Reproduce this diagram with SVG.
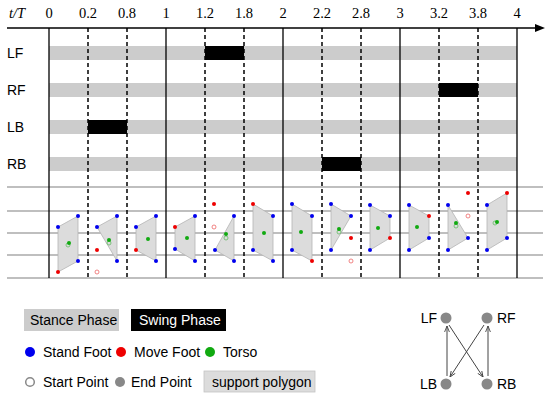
<svg xmlns="http://www.w3.org/2000/svg" width="550" height="399" viewBox="0 0 550 399">
<defs>
<style>
.num{font-family:"Liberation Serif",serif;font-size:14.5px;fill:#000;text-anchor:middle}
.lbl{font-family:"Liberation Sans",Arial,sans-serif;font-size:14px;fill:#000}
.bar{fill:#cccccc}
.sw{fill:#000}
.grid{stroke:#aaaaaa;stroke-width:1.3}
.solid{stroke:#000;stroke-width:1.3}
.dash{stroke:#000;stroke-width:1.5;stroke-dasharray:4,3}
.poly{fill:#dcdcdc;stroke:#b4b4b4;stroke-width:0.8}
.b{fill:#0000ee}
.r{fill:#ee0000}
.g{fill:#11aa11}
.rh{fill:none;stroke:#ee6666;stroke-width:0.8}
.gh{fill:none;stroke:#66bb66;stroke-width:0.8}
.conn{stroke:#444;stroke-width:1;fill:none}
</style>
<marker id="ar" viewBox="0 0 10 10" refX="10" refY="5" markerWidth="6" markerHeight="6" orient="auto" markerUnits="userSpaceOnUse">
<path d="M0,1 L10,5 L0,9" fill="none" stroke="#444" stroke-width="1.5"/>
</marker>
</defs>
<rect width="550" height="399" fill="#fff"/>

<g id="axis">
<text x="17" y="18" class="num" style="font-style:italic">t/T</text>
<text x="49" y="18" class="num">0</text>
<text x="88" y="18" class="num">0.2</text>
<text x="127" y="18" class="num">0.8</text>
<text x="166" y="18" class="num">1</text>
<text x="205" y="18" class="num">1.2</text>
<text x="244" y="18" class="num">1.8</text>
<text x="283" y="18" class="num">2</text>
<text x="322" y="18" class="num">2.2</text>
<text x="361" y="18" class="num">2.8</text>
<text x="400" y="18" class="num">3</text>
<text x="439" y="18" class="num">3.2</text>
<text x="478" y="18" class="num">3.8</text>
<text x="517" y="18" class="num">4</text>
<line x1="7" y1="28" x2="537" y2="28" stroke="#000" stroke-width="1.5"/>
<polygon points="545,28 535,24 535,32" fill="#000"/>
</g>

<g id="rows">
<text x="7" y="58" class="lbl">LF</text>
<text x="7" y="95" class="lbl">RF</text>
<text x="7" y="132" class="lbl">LB</text>
<text x="7" y="169" class="lbl">RB</text>
<rect class="bar" x="49" y="46" width="468" height="14"/>
<rect class="bar" x="49" y="83" width="468" height="14"/>
<rect class="bar" x="49" y="120" width="468" height="14"/>
<rect class="bar" x="49" y="157" width="468" height="14"/>
<rect class="sw" x="205" y="46" width="39" height="14"/>
<rect class="sw" x="439" y="83" width="39" height="14"/>
<rect class="sw" x="88" y="120" width="39" height="14"/>
<rect class="sw" x="322" y="157" width="39" height="14"/>
</g>

<g id="grid">
<line class="grid" x1="7" y1="187" x2="543" y2="187"/>
<line class="grid" x1="7" y1="211" x2="543" y2="211"/>
<line class="grid" x1="7" y1="233" x2="543" y2="233"/>
<line class="grid" x1="7" y1="255" x2="543" y2="255"/>
<line class="grid" x1="7" y1="278" x2="543" y2="278"/>
</g>

<g id="verticals">
<line class="solid" x1="49" y1="28" x2="49" y2="278"/>
<line class="solid" x1="166" y1="28" x2="166" y2="278"/>
<line class="solid" x1="283" y1="28" x2="283" y2="278"/>
<line class="solid" x1="400" y1="28" x2="400" y2="278"/>
<line class="solid" x1="517" y1="28" x2="517" y2="278"/>
<line class="dash" x1="88" y1="28" x2="88" y2="278"/>
<line class="dash" x1="127" y1="28" x2="127" y2="278"/>
<line class="dash" x1="205" y1="28" x2="205" y2="278"/>
<line class="dash" x1="244" y1="28" x2="244" y2="278"/>
<line class="dash" x1="322" y1="28" x2="322" y2="278"/>
<line class="dash" x1="361" y1="28" x2="361" y2="278"/>
<line class="dash" x1="439" y1="28" x2="439" y2="278"/>
<line class="dash" x1="478" y1="28" x2="478" y2="278"/>
</g>

<g id="polygons">
<polygon class="poly" points="58,227 78,216 78,261 58,272"/>
<circle class="b" cx="58" cy="227" r="2"/><circle class="b" cx="78" cy="216" r="2"/><circle class="b" cx="78" cy="261" r="2"/><circle class="r" cx="58" cy="272" r="2"/>
<circle class="gh" cx="68" cy="245" r="2"/><circle class="g" cx="69" cy="243" r="2"/>

<polygon class="poly" points="97,227 117,216 117,261"/>
<circle class="b" cx="97" cy="227" r="2"/><circle class="b" cx="117" cy="216" r="2"/><circle class="b" cx="117" cy="261" r="2"/><circle class="r" cx="97" cy="250" r="2"/><circle class="rh" cx="97" cy="272" r="2"/>
<circle class="gh" cx="109" cy="243" r="2"/><circle class="g" cx="109" cy="240" r="2"/>

<polygon class="poly" points="136,227 156,216 156,261 136,250"/>
<circle class="b" cx="136" cy="227" r="2"/><circle class="b" cx="156" cy="216" r="2"/><circle class="b" cx="156" cy="261" r="2"/><circle class="r" cx="136" cy="250" r="2"/>
<circle class="g" cx="148" cy="239" r="2"/>

<polygon class="poly" points="175,227 195,216 195,261 175,249"/>
<circle class="r" cx="175" cy="227" r="2"/><circle class="b" cx="195" cy="216" r="2"/><circle class="b" cx="195" cy="261" r="2"/><circle class="b" cx="175" cy="249" r="2"/>
<circle class="g" cx="187" cy="238" r="2"/>

<polygon class="poly" points="215,250 234,216 234,261"/>
<circle class="b" cx="215" cy="250" r="2"/><circle class="b" cx="234" cy="216" r="2"/><circle class="b" cx="234" cy="261" r="2"/><circle class="r" cx="214" cy="204" r="2"/><circle class="rh" cx="214" cy="227" r="2"/>
<circle class="gh" cx="226" cy="238" r="2"/><circle class="g" cx="226" cy="234" r="2"/>

<polygon class="poly" points="253,204 273,216 273,261 253,250"/>
<circle class="r" cx="253" cy="204" r="2"/><circle class="b" cx="273" cy="216" r="2"/><circle class="b" cx="273" cy="261" r="2"/><circle class="b" cx="253" cy="250" r="2"/>
<circle class="g" cx="264" cy="233" r="2"/>

<polygon class="poly" points="292,204 312,216 312,261 292,250"/>
<circle class="b" cx="292" cy="204" r="2"/><circle class="b" cx="312" cy="216" r="2"/><circle class="r" cx="312" cy="261" r="2"/><circle class="b" cx="292" cy="250" r="2"/>
<circle class="g" cx="301" cy="232" r="2"/>

<polygon class="poly" points="331,204 351,216 331,250"/>
<circle class="b" cx="331" cy="204" r="2"/><circle class="b" cx="351" cy="216" r="2"/><circle class="b" cx="331" cy="250" r="2"/><circle class="r" cx="351" cy="238" r="2"/><circle class="rh" cx="351" cy="261" r="2"/>
<circle class="gh" cx="339" cy="232" r="2"/><circle class="g" cx="339" cy="229" r="2"/>

<polygon class="poly" points="370,205 390,216 390,238 370,250"/>
<circle class="b" cx="370" cy="205" r="2"/><circle class="b" cx="390" cy="216" r="2"/><circle class="r" cx="390" cy="238" r="2"/><circle class="b" cx="370" cy="250" r="2"/>
<circle class="g" cx="378" cy="228" r="2"/>

<polygon class="poly" points="409,205 429,216 429,238 409,250"/>
<circle class="b" cx="409" cy="205" r="2"/><circle class="r" cx="429" cy="216" r="2"/><circle class="b" cx="429" cy="238" r="2"/><circle class="b" cx="409" cy="250" r="2"/>
<circle class="g" cx="417" cy="227" r="2"/>

<polygon class="poly" points="448,205 468,238 448,250"/>
<circle class="b" cx="448" cy="205" r="2"/><circle class="b" cx="468" cy="238" r="2"/><circle class="b" cx="448" cy="250" r="2"/><circle class="r" cx="468" cy="193" r="2"/><circle class="rh" cx="468" cy="216" r="2"/>
<circle class="gh" cx="456" cy="226" r="2"/><circle class="g" cx="456" cy="223" r="2"/>

<polygon class="poly" points="487,205 507,193 507,238 487,250"/>
<circle class="b" cx="487" cy="205" r="2"/><circle class="r" cx="507" cy="193" r="2"/><circle class="b" cx="507" cy="238" r="2"/><circle class="b" cx="487" cy="250" r="2"/>
<circle class="gh" cx="495" cy="223" r="2"/><circle class="g" cx="497" cy="222" r="2"/>
</g>

<g id="legend">
<rect x="24" y="309" width="95" height="22" fill="#cccccc"/>
<text x="30" y="325" class="lbl">Stance Phase</text>
<rect x="131" y="309" width="95" height="22" fill="#000"/>
<text x="139" y="325" class="lbl" style="fill:#fff">Swing Phase</text>
<circle cx="30" cy="352" r="5" fill="#0000ee"/>
<text x="43" y="357" class="lbl">Stand Foot</text>
<circle cx="121" cy="352" r="5" fill="#ee0000"/>
<text x="134" y="357" class="lbl">Move Foot</text>
<circle cx="210" cy="352" r="5" fill="#11aa11"/>
<text x="223" y="357" class="lbl">Torso</text>
<circle cx="30" cy="382" r="4.3" fill="#fff" stroke="#888" stroke-width="1.5"/>
<text x="43" y="387" class="lbl">Start Point</text>
<circle cx="120" cy="382" r="5" fill="#888"/>
<text x="131" y="387" class="lbl">End Point</text>
<rect x="204" y="371" width="111" height="21" fill="#dcdcdc" stroke="#c4c4c4" stroke-width="0.8"/>
<text x="212" y="387" class="lbl">support polygon</text>
</g>

<g id="node-LF"><circle cx="446" cy="318" r="5.5" fill="#888"/><text x="437" y="323" class="lbl" text-anchor="end">LF</text></g>
<g id="node-RF"><circle cx="487" cy="318" r="5.5" fill="#888"/><text x="497" y="323" class="lbl">RF</text></g>
<g id="node-LB"><circle cx="446" cy="384" r="5.5" fill="#888"/><text x="437" y="389" class="lbl" text-anchor="end">LB</text></g>
<g id="node-RB"><circle cx="487" cy="384" r="5.5" fill="#888"/><text x="497" y="389" class="lbl">RB</text></g>

<g id="connectors">
<line class="conn" x1="447" y1="376" x2="447" y2="326" marker-end="url(#ar)"/>
<line class="conn" x1="488" y1="376" x2="488" y2="326" marker-end="url(#ar)"/>
<line class="conn" x1="449" y1="325" x2="483" y2="377" marker-end="url(#ar)"/>
<line class="conn" x1="484" y1="325" x2="450" y2="377" marker-end="url(#ar)"/>
</g>
</svg>
